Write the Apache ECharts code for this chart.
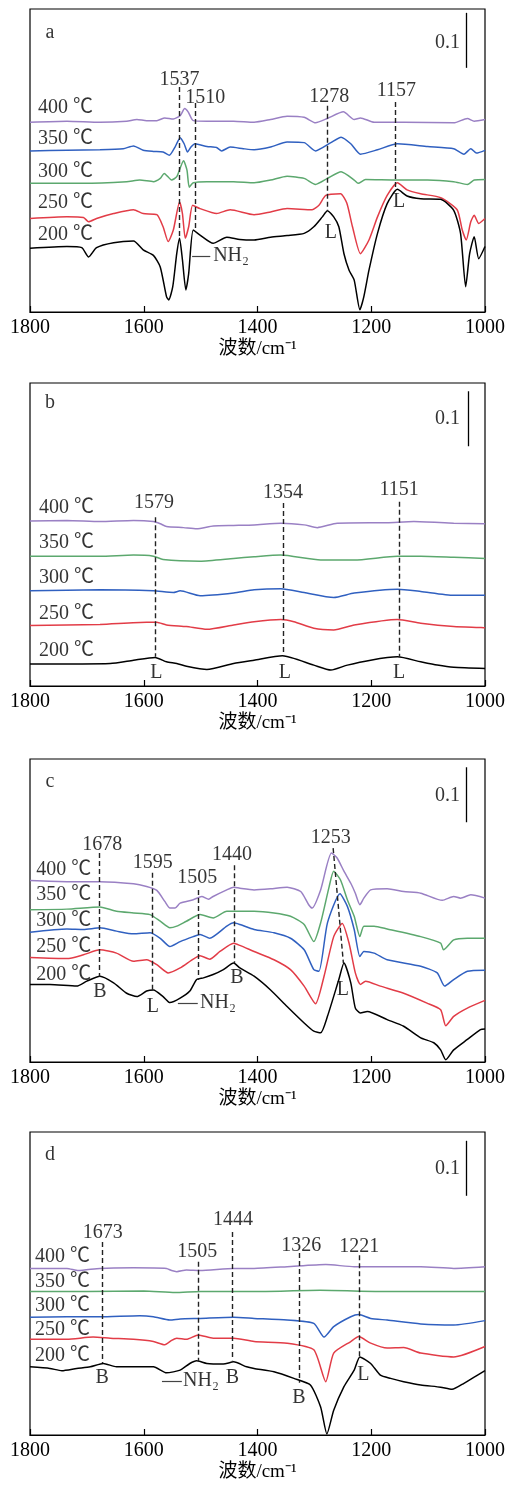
<!DOCTYPE html>
<html><head><meta charset="utf-8">
<script src="https://cdn.jsdelivr.net/npm/echarts@6/dist/echarts.min.js"></script>
<style>html,body{margin:0;padding:0;background:#fff}#c{width:508px;height:1486px}</style>
</head><body><div id="c"></div>
<script>
// ---------- data (absorbance, curves offset as in the figure) ----------
const xTickValues = [1800, 1600, 1400, 1200, 1000];
const temps = ['400 ℃', '350 ℃', '300 ℃', '250 ℃', '200 ℃'];
const panelLetters = ['a', 'b', 'c', 'd'];
const axisTitle = '波数/cm⁻¹';

// panel a
const a400 = [[1800,.345],[1735,.347],[1677,.345],[1630,.347],[1612,.350],[1595,.348],[1577,.348],[1563,.353],[1548,.351],[1536,.357],[1528,.370],[1522,.364],[1513,.348],[1489,.347],[1442,.347],[1406,.345],[1377,.350],[1348,.356],[1318,.354],[1298,.344],[1277,.352],[1249,.364],[1230,.350],[1219,.353],[1195,.345],[1142,.345],[1055,.344],[1031,.352],[1019,.347],[1000,.350]];
const a350 = [[1800,.293],[1735,.294],[1677,.295],[1636,.297],[1618,.302],[1601,.294],[1583,.292],[1566,.291],[1555,.285],[1545,.300],[1536,.317],[1529,.306],[1523,.291],[1517,.300],[1510,.306],[1489,.301],[1472,.299],[1463,.293],[1448,.300],[1425,.297],[1406,.295],[1377,.300],[1348,.309],[1318,.308],[1298,.293],[1271,.308],[1253,.318],[1236,.306],[1219,.287],[1189,.295],[1154,.306],[1101,.301],[1055,.297],[1037,.287],[1025,.297],[1015,.289],[1000,.294]];
const a300 = [[1800,.234],[1706,.234],[1630,.237],[1607,.240],[1583,.237],[1571,.243],[1564,.252],[1551,.240],[1542,.246],[1530,.275],[1524,.258],[1520,.227],[1513,.235],[1489,.237],[1442,.237],[1406,.235],[1377,.240],[1348,.247],[1318,.243],[1298,.232],[1277,.243],[1253,.255],[1230,.240],[1223,.234],[1210,.241],[1154,.240],[1101,.240],[1055,.237],[1031,.232],[1019,.240],[1000,.241]];
const a250 = [[1800,.170],[1735,.173],[1706,.172],[1697,.164],[1683,.170],[1653,.179],[1618,.186],[1601,.179],[1577,.177],[1566,.155],[1557,.128],[1548,.149],[1537,.200],[1532,.179],[1527,.134],[1521,.155],[1514,.194],[1501,.188],[1472,.179],[1448,.186],[1406,.177],[1377,.182],[1348,.188],[1304,.186],[1292,.194],[1280,.212],[1254,.215],[1243,.198],[1233,.155],[1219,.106],[1204,.131],[1189,.173],[1172,.212],[1154,.235],[1137,.222],[1113,.215],[1078,.208],[1049,.186],[1040,.149],[1033,.131],[1025,.164],[1019,.176],[1011,.161],[1000,.170]];
const a200 = [[1800,.116],[1735,.119],[1709,.117],[1697,.100],[1683,.117],[1653,.126],[1618,.129],[1601,.113],[1583,.103],[1571,.082],[1560,.028],[1556,.022],[1549,.046],[1542,.106],[1537,.134],[1532,.095],[1526,.040],[1521,.070],[1513,.149],[1501,.140],[1478,.125],[1454,.136],[1431,.132],[1406,.131],[1377,.136],[1348,.139],[1318,.143],[1301,.155],[1286,.173],[1277,.184],[1266,.173],[1257,.155],[1248,.106],[1239,.076],[1230,.058],[1220,.004],[1213,.028],[1204,.076],[1189,.143],[1172,.197],[1154,.223],[1137,.211],[1113,.206],[1078,.205],[1055,.185],[1043,.143],[1034,.046],[1027,.106],[1019,.137],[1011,.097],[1000,.119]];

// panel b
const b400 = [[1800,.300],[1735,.301],[1677,.299],[1618,.301],[1583,.299],[1571,.295],[1560,.290],[1530,.288],[1507,.286],[1478,.291],[1442,.292],[1406,.293],[1359,.296],[1318,.293],[1295,.288],[1260,.296],[1172,.297],[1125,.299],[1055,.296],[1000,.295]];
const b350 = [[1800,.236],[1735,.236],[1677,.236],[1618,.238],[1583,.236],[1566,.230],[1501,.227],[1442,.232],[1406,.235],[1359,.238],[1289,.229],[1230,.229],[1154,.236],[1113,.236],[1055,.234],[1000,.232]];
const b300 = [[1800,.173],[1677,.175],[1583,.173],[1548,.170],[1536,.173],[1501,.164],[1442,.169],[1406,.175],[1359,.177],[1318,.170],[1266,.161],[1230,.169],[1154,.176],[1113,.172],[1055,.165],[1000,.165]];
const b250 = [[1800,.110],[1677,.112],[1595,.116],[1577,.116],[1560,.111],[1525,.108],[1489,.103],[1442,.111],[1406,.117],[1359,.121],[1336,.117],[1301,.105],[1266,.102],[1230,.111],[1154,.121],[1113,.114],[1055,.108],[1000,.106]];
const b200 = [[1800,.040],[1659,.041],[1618,.047],[1580,.052],[1560,.044],[1542,.041],[1525,.036],[1489,.030],[1442,.041],[1406,.047],[1356,.055],[1301,.038],[1271,.029],[1242,.038],[1201,.047],[1154,.053],[1113,.044],[1084,.038],[1055,.034],[1000,.032]];

// panel c
const c400 = [[1800,.330],[1735,.328],[1677,.328],[1618,.324],[1595,.319],[1577,.312],[1563,.292],[1554,.280],[1545,.280],[1536,.289],[1513,.295],[1498,.301],[1486,.296],[1478,.301],[1454,.313],[1442,.318],[1431,.316],[1406,.313],[1377,.315],[1348,.318],[1324,.310],[1310,.286],[1304,.280],[1289,.313],[1270,.380],[1260,.371],[1248,.347],[1236,.325],[1228,.307],[1220,.286],[1213,.298],[1201,.313],[1172,.315],[1143,.310],[1113,.307],[1075,.294],[1055,.301],[1043,.298],[1025,.304],[1000,.298]];
const c350 = [[1800,.277],[1735,.278],[1677,.282],[1648,.274],[1618,.271],[1589,.268],[1571,.256],[1554,.244],[1542,.247],[1525,.256],[1501,.268],[1478,.262],[1454,.274],[1442,.274],[1406,.274],[1371,.271],[1342,.265],[1318,.250],[1301,.219],[1289,.253],[1274,.319],[1266,.347],[1254,.331],[1242,.295],[1230,.265],[1220,.228],[1213,.247],[1195,.247],[1172,.242],[1113,.228],[1078,.216],[1073,.204],[1055,.222],[1031,.225],[1000,.225]];
const c300 = [[1800,.236],[1735,.242],[1706,.241],[1677,.244],[1648,.238],[1618,.233],[1589,.235],[1571,.225],[1554,.210],[1536,.219],[1513,.228],[1501,.232],[1484,.225],[1454,.247],[1442,.253],[1431,.250],[1406,.241],[1371,.235],[1342,.225],[1318,.204],[1301,.168],[1292,.165],[1277,.253],[1255,.306],[1242,.283],[1230,.241],[1220,.192],[1213,.201],[1195,.198],[1172,.186],[1113,.174],[1084,.162],[1071,.138],[1055,.150],[1031,.165],[1000,.167]];
const c250 = [[1800,.190],[1735,.188],[1706,.195],[1677,.204],[1648,.198],[1618,.183],[1595,.186],[1577,.177],[1557,.162],[1536,.171],[1513,.187],[1501,.193],[1484,.187],[1466,.201],[1442,.216],[1431,.212],[1406,.201],[1371,.186],[1342,.168],[1318,.138],[1298,.106],[1283,.156],[1266,.228],[1251,.252],[1239,.216],[1228,.162],[1219,.141],[1210,.147],[1184,.138],[1143,.125],[1102,.107],[1078,.095],[1069,.066],[1055,.083],[1031,.098],[1000,.112]];
const c200 = [[1800,.141],[1765,.141],[1718,.138],[1700,.147],[1677,.156],[1653,.144],[1630,.125],[1612,.119],[1595,.129],[1583,.131],[1566,.119],[1554,.108],[1536,.116],[1519,.129],[1507,.150],[1495,.153],[1478,.159],[1460,.168],[1442,.180],[1431,.171],[1406,.156],[1377,.131],[1348,.101],[1318,.071],[1301,.056],[1289,.053],[1277,.083],[1257,.150],[1248,.180],[1236,.144],[1228,.098],[1219,.089],[1207,.092],[1172,.077],[1143,.065],[1113,.044],[1090,.035],[1078,.022],[1069,.004],[1055,.022],[1031,.041],[1008,.059],[1000,.060]];

// panel d
const d400 = [[1800,.303],[1735,.303],[1715,.299],[1677,.303],[1618,.304],[1560,.303],[1551,.299],[1542,.297],[1525,.300],[1501,.299],[1442,.303],[1406,.303],[1348,.306],[1280,.310],[1230,.306],[1172,.306],[1113,.306],[1055,.303],[1000,.306]];
const d350 = [[1800,.261],[1700,.261],[1600,.262],[1545,.259],[1500,.261],[1406,.261],[1290,.263],[1172,.261],[1055,.261],[1000,.261]];
const d300 = [[1800,.214],[1735,.215],[1677,.215],[1607,.217],[1583,.215],[1554,.209],[1536,.211],[1501,.212],[1442,.214],[1406,.212],[1348,.209],[1301,.203],[1283,.178],[1266,.197],[1236,.215],[1222,.219],[1201,.212],[1172,.209],[1113,.202],[1055,.200],[1000,.208]];
const d250 = [[1800,.174],[1735,.174],[1689,.178],[1659,.176],[1618,.174],[1583,.170],[1563,.164],[1551,.172],[1542,.176],[1525,.174],[1504,.182],[1478,.176],[1442,.176],[1406,.170],[1348,.167],[1301,.155],[1280,.097],[1266,.149],[1236,.170],[1222,.179],[1201,.167],[1172,.158],[1143,.159],[1113,.149],[1055,.142],[1000,.161]];
const d200 = [[1800,.124],[1765,.121],[1744,.117],[1718,.121],[1694,.124],[1671,.130],[1648,.124],[1583,.124],[1560,.113],[1536,.118],[1519,.130],[1507,.135],[1489,.130],[1460,.129],[1442,.133],[1419,.124],[1406,.121],[1371,.115],[1336,.103],[1307,.091],[1289,.051],[1278,.002],[1266,.045],[1248,.088],[1230,.118],[1220,.142],[1201,.130],[1184,.109],[1166,.103],[1143,.097],[1113,.091],[1078,.087],[1058,.083],[1037,.094],[1000,.117]];

// annotations: [text, labelX, labelY, lineX1, lineY1, lineX2, lineY2]
const aPeaks = [['1537',1537,.422,1537,.409,1537,.135],['1510',1492,.389,1510,.380,1510,.149],['1278',1274,.391,1278,.375,1278,.185],['1157',1156,.402,1157,.382,1157,.222]];
const bPeaks = [['1579',1582,.333,1579,.307,1579,.053],['1354',1355,.351,1354,.333,1354,.055],['1151',1151,.356,1151,.335,1151,.053]];
const cPeaks = [['1678',1673,.395,1678,.380,1678,.155],['1595',1584,.362,1585,.344,1585,.131],['1505',1506,.335,1505,.313,1505,.149],['1440',1445,.376,1441,.358,1441,.180],['1253',1271,.407,1267,.389,1249,.180]];
const dPeaks = [['1673',1672,.367,1673,.351,1673,.131],['1505',1506,.333,1505,.315,1505,.133],['1444',1443,.391,1444,.369,1444,.136],['1326',1323,.345,1326,.331,1326,.095],['1221',1221,.342,1221,.327,1221,.142]];
// site letters: [text, x, y]
const aSites = [['L',1271,.144],['L',1151,.200]];
const bSites = [['L',1578,.024],['L',1352,.025],['L',1151,.025]];
const cSites = [['B',1677,.127],['L',1584,.100],['B',1436,.153],['L',1250,.131]];
const dSites = [['B',1673,.105],['B',1444,.105],['B',1327,.067],['L',1214,.109]];
// NH2 leader: [x1, x2, y, textX]  (null = none)
const nh2 = [[1515,1483,.102,1478], null, [1540,1505,.107,1501], [1568,1533,.098,1531]];
// temperature label rows: y of each label, left x
const tempY = [[.371,.315,.255,.198,.140],[.325,.260,.196,.131,.065],[.349,.304,.256,.209,.158],[.324,.278,.235,.191,.145]];
const tempX = [1786, 1784, 1789, 1791];
// scale bar (0.1 absorbance): [x, yBottom, labelY]
const scaleBars = [[1033,.444,.489],[1030,.436,.486],[1033,.436,.485],[1033,.435,.485]];
const letterY = [.507, .515, .509, .509];

const curves = [[a400,a350,a300,a250,a200],[b400,b350,b300,b250,b200],[c400,c350,c300,c250,c200],[d400,d350,d300,d250,d200]];
const peaks = [aPeaks, bPeaks, cPeaks, dPeaks];
const sites = [aSites, bSites, cSites, dSites];

// ---------- styling / layout ----------
const PURPLE = '#9a80c4', BLUE = '#3060c0', GREEN = '#5ca86e', RED = '#e23c47', BLACK = '#000000';
// curve colours per panel, in order 400,350,300,250,200 ℃
const panelColors = [
  [PURPLE, BLUE, GREEN, RED, BLACK],
  [PURPLE, GREEN, BLUE, RED, BLACK],
  [PURPLE, GREEN, BLUE, RED, BLACK],
  [PURPLE, GREEN, BLUE, RED, BLACK]
];
const FONT = "'Liberation Serif','Times New Roman','Noto Sans CJK SC',serif";
const FS = 20;
const tops = [9, 383, 759, 1132];

const chart = echarts.init(document.getElementById('c'), null, {renderer: 'canvas'});
const grid = [], xAxis = [], yAxis = [], series = [];
tops.forEach((t, i) => {
  grid.push({left: 30, top: t, width: 455, height: 303, show: true, borderColor: '#000', borderWidth: 1.2, containLabel: false});
  xAxis.push({
    type: 'value', gridIndex: i, inverse: true, min: 1000, max: 1800, interval: 200,
    axisLine: {show: true, lineStyle: {color: '#000', width: 1.2}},
    axisTick: {show: true, inside: true, length: 6, lineStyle: {color: '#000', width: 1.2}},
    splitLine: {show: false},
    axisLabel: {color: '#000', fontSize: FS, fontFamily: FONT, margin: 6,
                formatter: v => xTickValues.includes(v) ? String(v) : ''},
    name: axisTitle, nameLocation: 'middle', nameGap: 28,
    nameTextStyle: {color: '#000', fontSize: 19, fontFamily: FONT}
  });
  yAxis.push({type: 'value', gridIndex: i, min: 0, max: 0.551, show: false, splitLine: {show: false}});

  curves[i].forEach((d, k) => {
    series.push({
      type: 'line', xAxisIndex: i, yAxisIndex: i, data: d, showSymbol: false, symbol: 'none',
      smooth: 0.2, lineStyle: {color: panelColors[i][k], width: 1.5}, z: 3, silent: true
    });
  });

  // text annotations + reference lines
  const texts = [];
  const lines = [];
  peaks[i].forEach(p => {
    texts.push({name: p[0], value: [p[1], p[2]]});
    lines.push([{coord: [p[3], p[4]]}, {coord: [p[5], p[6]], lineStyle: {type: [5, 3], color: '#222', width: 1.4}}]);
  });
  sites[i].forEach(s => texts.push({name: s[0], value: [s[1], s[2]]}));
  temps.forEach((tl, k) => texts.push({name: tl, value: [tempX[i], tempY[i][k]], label: {align: 'left'}}));
  const sb = scaleBars[i];
  lines.push([{coord: [sb[0], sb[1]]}, {coord: [sb[0], sb[1] + 0.1], lineStyle: {type: 'solid', color: '#000', width: 1.3}}]);
  texts.push({name: '0.1', value: [1044, sb[2]], label: {align: 'right'}});
  texts.push({name: panelLetters[i], value: [1765, letterY[i]]});
  if (nh2[i]) {
    const n = nh2[i];
    lines.push([{coord: [n[0], n[2]]}, {coord: [n[1], n[2]], lineStyle: {type: 'solid', color: '#444', width: 1.2}}]);
    texts.push({name: 'NH₂', value: [n[3], n[2]], label: {align: 'left'}});
  }
  series.push({
    type: 'scatter', xAxisIndex: i, yAxisIndex: i, symbolSize: 0, silent: true, z: 5,
    data: texts,
    label: {show: true, formatter: '{b}', position: [0, 0], align: 'center', verticalAlign: 'middle',
            color: '#000', fontSize: FS, fontFamily: FONT},
    markLine: {silent: true, symbol: 'none', label: {show: false}, animation: false, data: lines}
  });
});

chart.setOption({animation: false, backgroundColor: '#fff', grid, xAxis, yAxis, series});
</script></body></html>
